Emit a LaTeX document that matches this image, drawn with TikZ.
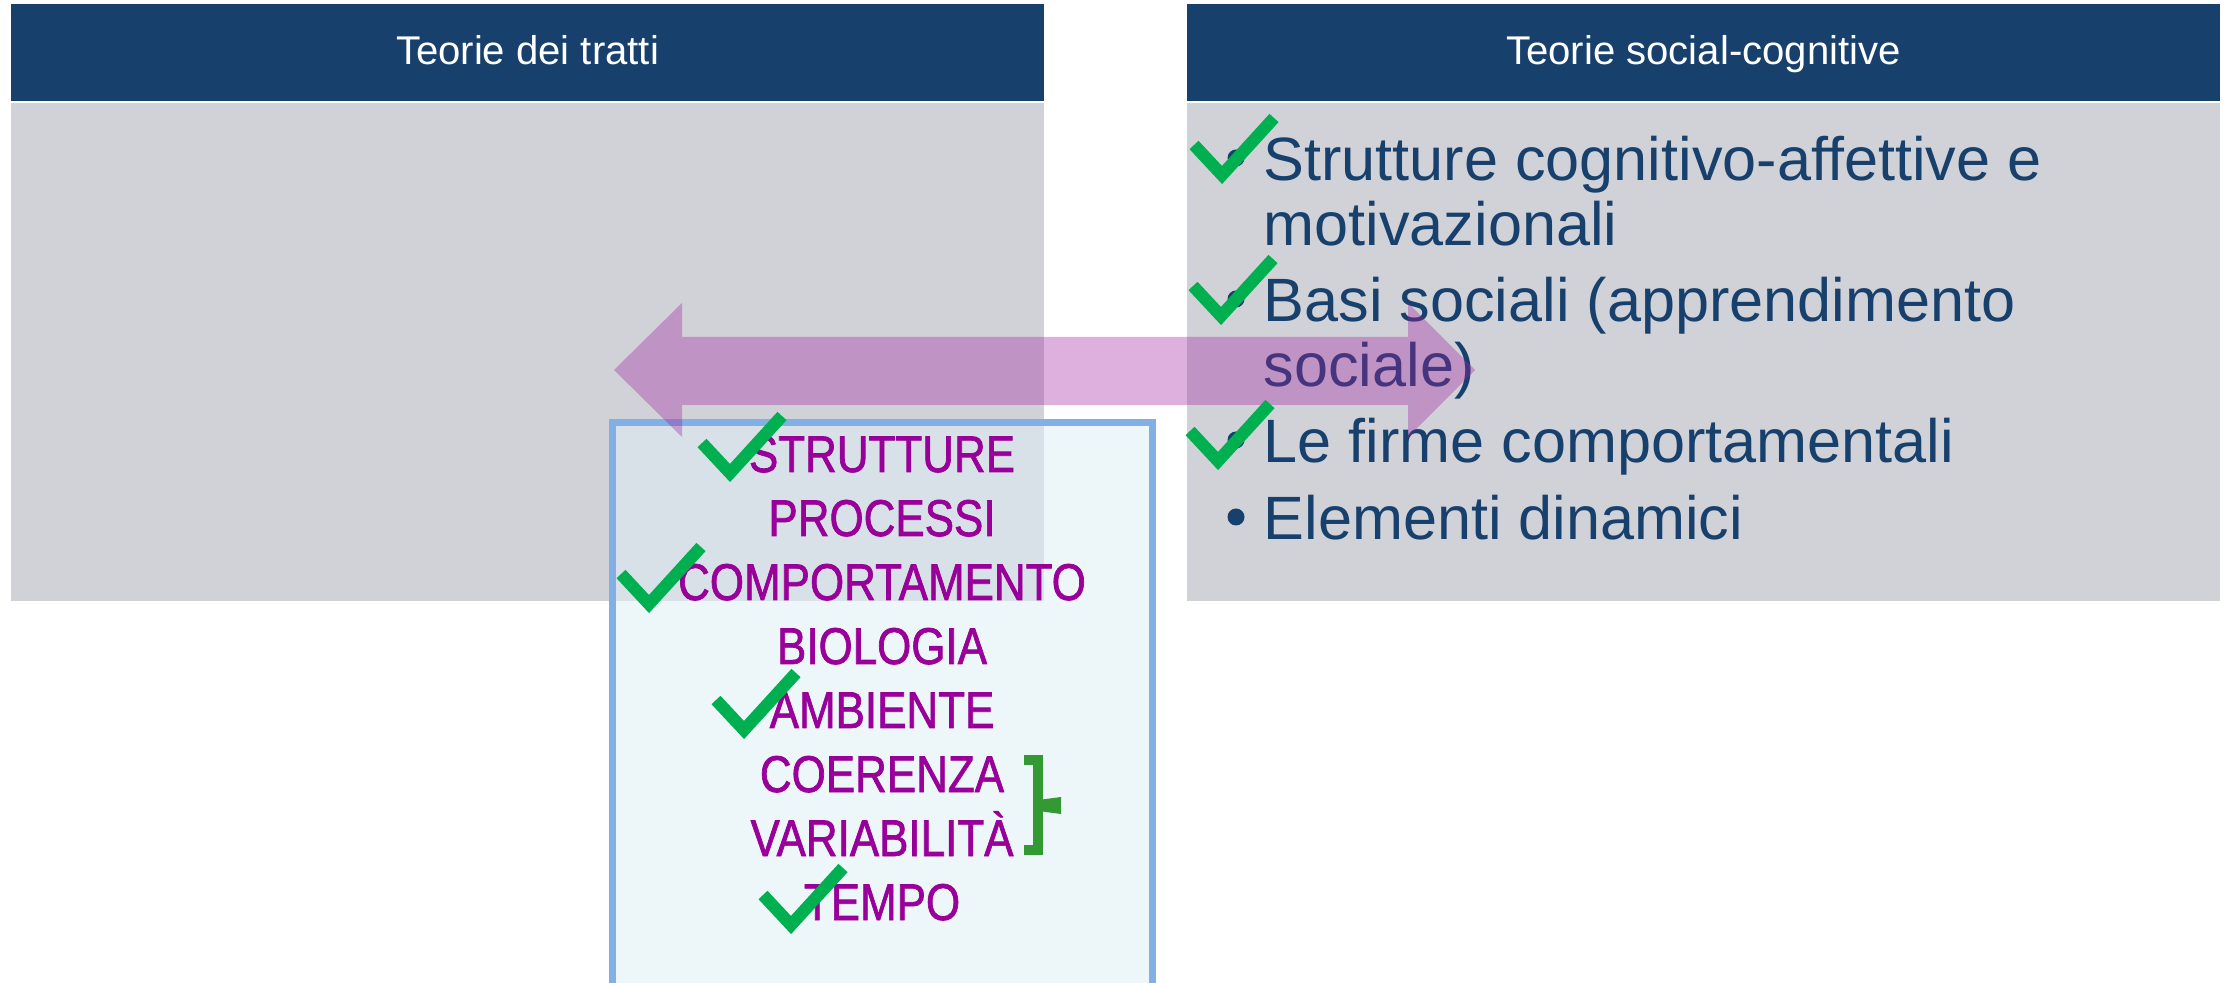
\documentclass[tikz,border=0pt]{standalone}
\usepackage{fontspec}
\setmainfont{Liberation Sans}
\newfontfamily\narrowfont[FakeStretch=0.85,FakeBold=1.3]{Liberation Sans}

\definecolor{panelblue}{RGB}{23,64,109}
\definecolor{panelgray}{RGB}{208,210,215}
\definecolor{wordpurple}{RGB}{153,0,153}
\definecolor{tickgreen}{RGB}{0,176,80}
\definecolor{bracegreen}{RGB}{51,153,51}
\definecolor{boxedge}{RGB}{130,176,228}
\definecolor{boxfill}{RGB}{223,239,245}
\definecolor{arrowpurple}{RGB}{160,30,160}

\begin{document}
\begin{tikzpicture}[x=0.01cm, y=-0.01cm,
  headtext/.style={anchor=base, inner sep=0pt, text=white, font=\fontsize{11.4}{13}\selectfont},
  listtext/.style={anchor=base west, inner sep=0pt, text=panelblue, font=\fontsize{17.4}{20}\selectfont},
  boxword/.style={anchor=base, inner sep=0pt, text=wordpurple, font=\narrowfont\fontsize{14.7}{17}\selectfont},
  checkline/.style={draw=tickgreen, line width=3.5pt},
  checkmark/.pic={\draw[checkline] (-28,-30) -- (0,0) -- (52,-57);}]
\clip (0,0) rectangle (2228,983);
\fill[white] (0,0) rectangle (2228,983);
% the two panels
\fill[panelblue] (11,4) rectangle (1044,101);
\fill[panelgray] (11,103) rectangle (1044,601);
\fill[panelblue] (1187,4) rectangle (2220,101);
\fill[panelgray] (1187,103) rectangle (2220,601);
\node[headtext] (hl) at (527.5,65) {Teorie dei tratti};
\node[headtext] (hr) at (1703.5,65) {Teorie social-cognitive};
% bullet list
\foreach \y in {181,322,463,540}
  \fill[panelblue] (1236,\y-23) circle (8.5);
\foreach \y/\txt [count=\i] in {181/Strutture cognitivo-affettive e,
                                246/motivazionali,
                                322/Basi sociali (apprendimento,
                                387/sociale),
                                463/Le firme comportamentali,
                                540/Elementi dinamici}
  \node[listtext] (l\i) at (1263,\y) {\txt};
% box of key words
\draw[draw=boxedge, line width=2pt, fill=boxfill, fill opacity=0.55]
  (612.5,422.5) rectangle (1152.5,1000);
\foreach \w [count=\i] in {STRUTTURE,PROCESSI,COMPORTAMENTO,BIOLOGIA,
                           AMBIENTE,COERENZA,VARIABILITÀ,TEMPO}
  \node[boxword] (w\i) at (882,408+64*\i) {\w};
\draw[draw=bracegreen, line width=2.6pt] (1024,760) -- (1038,760) -- (1038,850) -- (1024,850);
\fill[bracegreen] (1038,800) -- (1061,797) -- (1061,814) -- (1038,811) -- cycle;
% double arrow
\fill[arrowpurple, fill opacity=0.35] (614,370) -- (682,303) -- (682,337) -- (1408,337)
  -- (1408,303) -- (1475,370) -- (1408,437) -- (1408,405) -- (682,405) -- (682,437) -- cycle;
% ticks
\foreach \p in {(1222,175),(1221,316),(1218,461),(730,473),(649,604),(744,730),(791,925)}
  \pic at \p {checkmark};
\end{tikzpicture}
\end{document}
